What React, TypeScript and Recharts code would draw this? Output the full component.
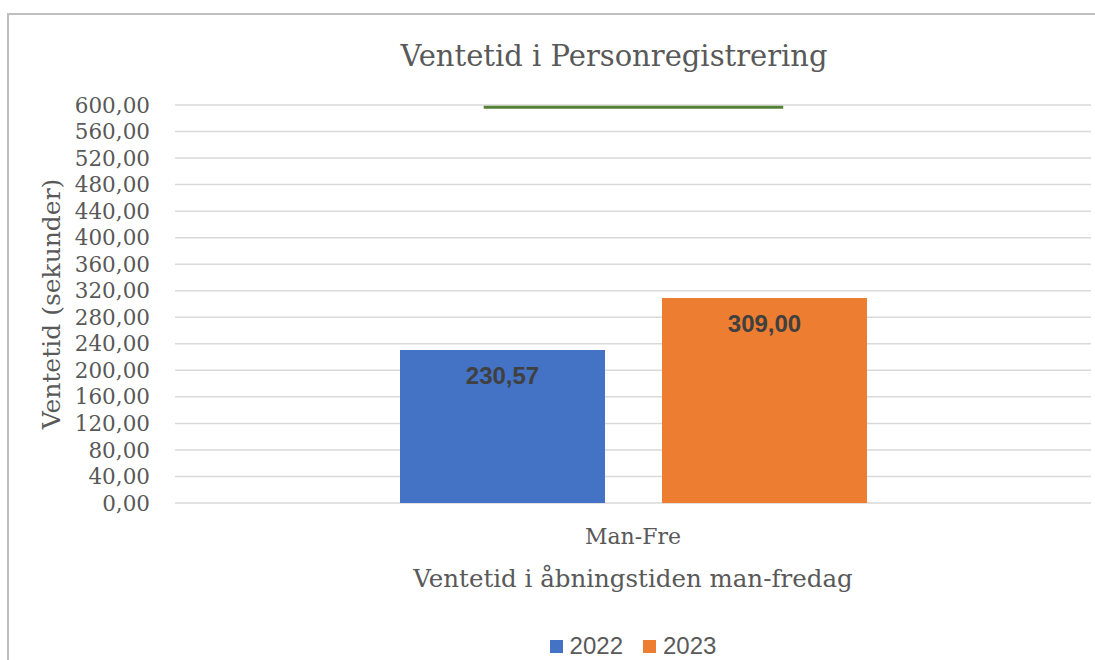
import React from 'react';
import {
  ComposedChart,
  Bar,
  XAxis,
  YAxis,
  CartesianGrid,
  Legend,
  LabelList,
  ReferenceLine,
  Label,
} from 'recharts';

const categories = ['Man-Fre'];
const values2022 = [230.57];
const values2023 = [309.0];
const seriesNames = ['2022', '2023'];
const yTicks = [0, 40, 80, 120, 160, 200, 240, 280, 320, 360, 400, 440, 480, 520, 560, 600];
const targetValue = 598;
const targetSpan = [0.337, 0.664];

const chartTitle = 'Ventetid i Personregistrering';
const yTitle = 'Ventetid (sekunder)';
const xTitle = 'Ventetid i åbningstiden man-fredag';

const COLORS = { y2022: '#4472C4', y2023: '#ED7D31', target: '#548235' };
const TEXT = '#595959';
const SERIF = '"DejaVu Serif", serif';
const SANS = '"Liberation Sans", Arial, sans-serif';

const data = categories.map((c, i) => ({ name: c, y2022: values2022[i], y2023: values2023[i] }));
const fmt = (v: number) => v.toFixed(2).replace('.', ',');

const LegendContent = () => (
  <div
    style={{
      display: 'flex',
      justifyContent: 'center',
      alignItems: 'center',
      height: 40,
      paddingTop: 12,
      boxSizing: 'border-box',
      fontFamily: SANS,
      fontSize: 24,
      color: TEXT,
    }}
  >
    {seriesNames.map((n, i) => (
      <div key={n} style={{ display: 'flex', alignItems: 'center', marginRight: i === 0 ? 20 : 0 }}>
        <div
          style={{
            width: 13,
            height: 13,
            background: i === 0 ? COLORS.y2022 : COLORS.y2023,
            marginRight: 7,
          }}
        />
        <span>{n}</span>
      </div>
    ))}
  </div>
);

const TargetShape = (props: any) => {
  const { x1, x2, y1 } = props;
  const w = x2 - x1;
  return (
    <line
      x1={x1 + w * targetSpan[0]}
      x2={x1 + w * targetSpan[1]}
      y1={y1 + 1}
      y2={y1 + 1}
      stroke={COLORS.target}
      strokeWidth={3}
    />
  );
};

export default function App() {
  return (
    <div style={{ position: 'absolute', left: 0, top: 0, width: 1095, height: 660, background: '#fff', overflow: 'hidden' }}>
      <div
        style={{
          position: 'absolute',
          left: 7,
          top: 13,
          width: 1100,
          height: 660,
          borderTop: '2px solid #bfbfbf',
          borderLeft: '2px solid #bfbfbf',
        }}
      />
      <div
        style={{
          position: 'absolute',
          left: 0,
          width: 1228,
          top: 41,
          textAlign: 'center',
          fontFamily: SERIF,
          fontSize: 29,
          lineHeight: '30px',
          color: TEXT,
          whiteSpace: 'nowrap',
        }}
      >
        {chartTitle}
      </div>
      <div style={{ position: 'absolute', left: 0, top: 0 }}>
        <ComposedChart width={1095} height={660} data={data} margin={{ top: 105, right: 4, bottom: 0, left: 0 }} barGap={57} barCategoryGap="24.6%">
          <CartesianGrid vertical={false} stroke="#d9d9d9" strokeWidth={1.5} />
          <XAxis
            dataKey="name"
            axisLine={false}
            tickLine={false}
            height={117}
            tickMargin={19}
            tick={{ fill: TEXT, fontFamily: SERIF, fontSize: 22 }}
          >
            <Label
              content={({ viewBox }: any) => (
                <text
                  x={viewBox.x + viewBox.width / 2}
                  y={viewBox.y + 84}
                  textAnchor="middle"
                  fill={TEXT}
                  fontFamily={SERIF}
                  fontSize={24.5}
                >
                  {xTitle}
                </text>
              )}
            />
          </XAxis>
          <YAxis
            width={175}
            domain={[0, 600]}
            ticks={yTicks}
            interval={0}
            axisLine={false}
            tickLine={false}
            tickMargin={19}
            tickFormatter={fmt}
            tick={{ fill: TEXT, fontFamily: SERIF, fontSize: 21.5 }}
          >
            <Label
              content={({ viewBox }: any) => (
                <text
                  x={0}
                  y={0}
                  transform={`translate(${51}, ${viewBox.y + viewBox.height / 2}) rotate(-90)`}
                  textAnchor="middle"
                  dominantBaseline="central"
                  fill={TEXT}
                  fontFamily={SERIF}
                  fontSize={25}
                >
                  {yTitle}
                </text>
              )}
            />
          </YAxis>
          <Legend verticalAlign="bottom" height={40} wrapperStyle={{ left: 175, width: 916 }} content={<LegendContent />} />
          <Bar dataKey="y2022" name={seriesNames[0]} fill={COLORS.y2022} isAnimationActive={false} barSize={205}>
            <LabelList
              dataKey="y2022"
              position="insideTop"
              offset={17}
              formatter={(v: any) => fmt(Number(v))}
              fill="#404040"
              fontFamily={SANS}
              fontSize={24}
              fontWeight="bold"
            />
          </Bar>
          <Bar dataKey="y2023" name={seriesNames[1]} fill={COLORS.y2023} isAnimationActive={false} barSize={205}>
            <LabelList
              dataKey="y2023"
              position="insideTop"
              offset={17}
              formatter={(v: any) => fmt(Number(v))}
              fill="#404040"
              fontFamily={SANS}
              fontSize={24}
              fontWeight="bold"
            />
          </Bar>
          <ReferenceLine y={targetValue} ifOverflow="extendDomain" shape={<TargetShape />} />
        </ComposedChart>
      </div>
    </div>
  );
}
